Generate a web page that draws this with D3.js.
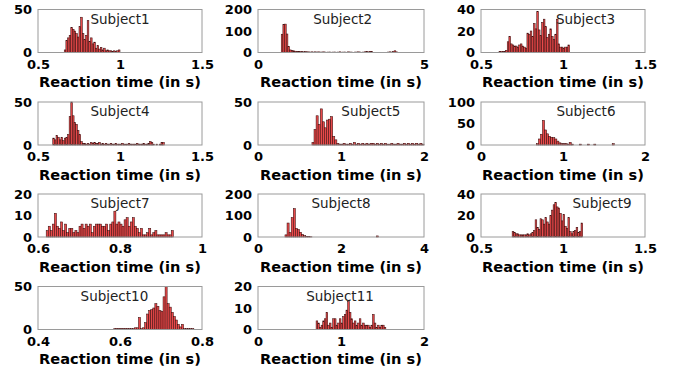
<!DOCTYPE html>
<html>
<head>
<meta charset="utf-8">
<script src="https://cdn.jsdelivr.net/npm/d3@7"></script>
<style>
  html, body { margin: 0; padding: 0; background: #fff; }
  svg { display: block; }
</style>
</head>
<body>
<svg id="chart" width="674" height="375"></svg>
<script>
// Reaction-time histograms, one panel per subject.
const subjects = ["Subject1","Subject2","Subject3","Subject4","Subject5","Subject6",
                  "Subject7","Subject8","Subject9","Subject10","Subject11"];

// left edge of the first bin and bin width (seconds) for each subject
const binStart = [0.66, 0.70, 0.61, 0.59, 0.65, 0.675, 0.62, 0.65, 0.69, 0.585, 0.70];
const binWidth = [0.01, 0.05, 0.01, 0.01, 0.025, 0.025, 0.005, 0.05, 0.01, 0.005, 0.02];

// counts per bin
const counts1 = [3,14,17,20,29,27,25,22,18,30,41,22,15,20,37,13,17,10,12,5,8,4,6,3,5,2,3,2,2,1,2,1,2,3];
const counts2 = [85,131,132,86,28,12,9,8,6,5,5,4,4,3,4,3,3,2,3,2,3,2,3,2,2,3,2,1,2,2,1,2,2,1,2,3,1,2,2,1,
                 3,2,2,1,2,2,3,2,1,2,3,4,3,5,4,1,0,0,0,0,0,0,0,1,2,3,2,4,8,3];
const counts3 = [1,1,1,1,2,10,15,8,7,6,6,5,7,8,6,5,4,18,17,20,15,27,22,38,21,16,28,31,24,14,17,22,15,12,17,31,8,5,5,4,5,5,7];
const counts4 = [8,6,11,9,6,9,5,8,9,12,33,50,34,26,24,17,12,4,2,2,1,2,1,3,2,3,2,2,3,1,2,1,2,1,1,2,1,1,2,1,
                 1,1,2,1,1,1,2,1,1,1,1,2,1,1,1,2,1,1,2,4,3,1,0,1,0,1,3,3];
const counts5 = [3,18,34,24,42,27,20,29,30,33,10,6,2,1,1,2,1,1,2,1,3,1,2,1,2,1,2,1,2,2,1,2,1,2,1,2,1,1,2,1,1,2,1,1,2,1,2,1,2,1,2,1,2,1];
const counts6 = [3,14,25,57,35,26,20,18,17,14,9,5,3,3,3,2,6,2,0,0,0,2,0,0,0,2,0,0,2,0,0,0,0,0,0,0,0,3];
const counts7 = [3,5,3,6,11,5,4,7,3,6,2,4,4,2,3,2,5,6,4,6,5,6,2,5,6,6,6,5,5,6,3,6,7,12,6,7,6,5,8,9,
                 5,7,9,5,4,2,4,1,1,2,4,1,2,3,1,1,1,1,2,1,1,3];
const counts8 = [10,65,20,90,132,40,35,22,12,6,3,2,1,0,0,0,0,0,0,0,0,0,0,0,0,0,0,0,0,0,0,0,0,0,0,0,0,0,0,0,0,0,0,0,5];
const counts9 = [5,4,3,3,2,2,2,2,2,3,2,3,4,6,16,9,7,17,16,12,18,14,12,20,25,30,32,28,27,22,15,21,10,8,18,5,3,5,6,9,4,5,13];
const counts10 = [1,1,1,1,1,1,1,1,1,1,2,2,14,1,2,8,18,22,23,25,30,27,22,21,38,50,30,26,20,15,11,6,3,6,1,1,1,1,1];
const counts11 = [4,3,1,2,4,5,8,2,3,1,5,5,2,3,5,3,6,7,9,13,8,5,3,4,2,3,5,2,3,2,2,2,1,2,7,3,1,2,1,2,2,1];

const allCounts = [counts1,counts2,counts3,counts4,counts5,counts6,counts7,counts8,counts9,counts10,counts11];

// axis ranges and tick labels
const xDomains = [[0.5,1.5],[0,5],[0.5,1.5],[0.5,1.5],[0,2],[0,2],[0.6,1],[0,4],[0.5,1.5],[0.4,0.8],[0,2]];
const xTickVals = [[0.5,1,1.5],[0,5],[0.5,1,1.5],[0.5,1,1.5],[0,1,2],[0,1,2],[0.6,0.8,1],[0,2,4],[0.5,1,1.5],[0.4,0.6,0.8],[0,1,2]];
const yMax = [50,200,40,50,50,100,20,200,40,50,20];
const yTickVals = [[0,50],[0,100,200],[0,20,40],[0,50],[0,50],[0,50,100],[0,10,20],[0,100,200],[0,20,40],[0,50],[0,10,20]];
const xLabel = "Reaction time (in s)";

// grid layout
const colLeft = [38, 258, 481];
const colWidth = [164, 166, 164];
const rowTop = [9.5, 102, 194, 286.5];
const plotH = 43;
// horizontal placement of each panel's title (fraction of panel width)
const titlePos = [0.5, 0.51, 0.637, 0.5, 0.68, 0.64, 0.5, 0.5, 0.738, 0.466, 0.494];

const svg = d3.select("#chart");
const fmt = d => String(+d.toFixed(3));

subjects.forEach((name, i) => {
  const r = Math.floor(i / 3), c = i % 3;
  const w = colWidth[c];
  const g = svg.append("g").attr("transform", `translate(${colLeft[c]},${rowTop[r]})`);

  const x = d3.scaleLinear().domain(xDomains[i]).range([0, w]);
  const y = d3.scaleLinear().domain([0, yMax[i]]).range([plotH, 0]);

  const bins = allCounts[i].map((v, k) => ({
    x0: binStart[i] + k * binWidth[i],
    x1: binStart[i] + (k + 1) * binWidth[i],
    v
  })).filter(b => b.v > 0);

  g.selectAll("rect.bar").data(bins).join("rect")
    .attr("class", "bar")
    .attr("x", d => x(d.x0))
    .attr("width", d => Math.max(0.3, x(d.x1) - x(d.x0)))
    .attr("y", d => y(d.v))
    .attr("height", d => y(0) - y(d.v))
    .attr("fill", "#e8494a")
    .attr("stroke", "#3a0c0c")
    .attr("stroke-width", 0.55);

  // frame
  g.append("rect")
    .attr("x", 0).attr("y", 0).attr("width", w).attr("height", plotH)
    .attr("fill", "none").attr("stroke", "#9a9a9a").attr("stroke-width", 1);

  // x axis
  const xa = g.append("g").attr("transform", `translate(0,${plotH})`)
    .call(d3.axisBottom(x).tickValues(xTickVals[i]).tickFormat(fmt).tickSize(0).tickPadding(7));
  xa.select(".domain").remove();
  xa.selectAll("text")
    .attr("font-family", "DejaVu Sans, sans-serif")
    .attr("font-weight", "bold").attr("font-size", 13).attr("fill", "#000");

  // y axis
  const ya = g.append("g")
    .call(d3.axisLeft(y).tickValues(yTickVals[i]).tickFormat(fmt).tickSize(0).tickPadding(6));
  ya.select(".domain").remove();
  ya.selectAll("text")
    .attr("font-family", "DejaVu Sans, sans-serif")
    .attr("font-weight", "bold").attr("font-size", 13).attr("fill", "#000");

  // axis label
  g.append("text")
    .attr("x", w / 2).attr("y", plotH + 34.5)
    .attr("text-anchor", "middle")
    .attr("font-family", "DejaVu Sans, sans-serif")
    .attr("font-weight", "bold").attr("font-size", 14.6).attr("fill", "#000")
    .text(xLabel);

  // subject title
  g.append("text")
    .attr("x", w * titlePos[i]).attr("y", 14)
    .attr("text-anchor", "middle")
    .attr("font-family", "DejaVu Sans, sans-serif")
    .attr("font-size", 13.5).attr("fill", "#222")
    .text(name);
});
</script>
</body>
</html>
